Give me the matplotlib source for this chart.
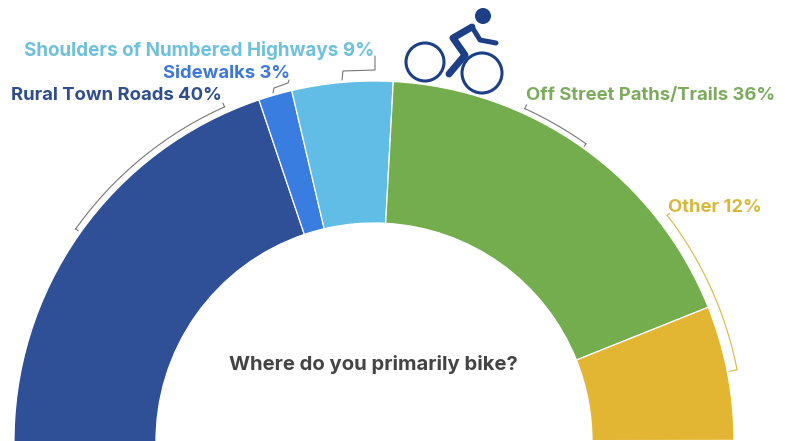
import numpy as np
import matplotlib
matplotlib.use('Agg')
import matplotlib.pyplot as plt
from matplotlib.patches import Circle

plt.rcParams['font.family'] = ['Inter', 'DejaVu Sans']

categorias = ['Rural Town Roads', 'Sidewalks', 'Shoulders of Numbered Highways',
              'Off Street Paths/Trails', 'Other']
valores = [40, 3, 9, 36, 12]
colores = ['#2f5096', '#3a7de0', '#62bde6', '#74ad4e', '#e2b532']
colores_texto = ['#2f4f8c', '#3f78dc', '#6fc0dc', '#7dab5e', '#d8b83c']
titulo = 'Where do you primarily bike?'

H = 441
CX, R, R_INT = 374, 360, 218
AZUL_ICONO = '#1d3f86'
GRIS = '#777777'


def py(y):
    # la imagen original se midio con y hacia abajo
    return H - y


def linea(puntos, color, lw=0.8):
    xs = [p[0] for p in puntos]
    ys = [py(p[1]) for p in puntos]
    ax.plot(xs, ys, color=color, lw=lw, solid_capstyle='round', solid_joinstyle='round')


def corchete(a0, a1, r, color, ini, fin):
    # arco alrededor del anillo, con una patita en cada extremo
    angs = np.radians(np.linspace(a0, a1, 40))
    xs = CX + r * np.cos(angs)
    ys = r * np.sin(angs)
    ax.plot(xs, ys, color=color, lw=0.8)
    for a, dr in ((a0, ini), (a1, fin)):
        t = np.radians(a)
        ax.plot([CX + r * np.cos(t), CX + (r + dr) * np.cos(t)],
                [r * np.sin(t), (r + dr) * np.sin(t)], color=color, lw=0.8)


fig = plt.figure(figsize=(7.85, 4.41), dpi=100)
ax = fig.add_axes([0, 0, 1, 1])

# resto invisible para cerrar la vuelta, la mitad de abajo queda fuera de la imagen
ax.pie(valores + [99], colors=colores + ['none'], startangle=181, counterclock=False,
       center=(CX, 0), radius=R, frame=True,
       wedgeprops={'width': R - R_INT, 'edgecolor': 'white', 'linewidth': 0.9})
ax.patches[-1].set_edgecolor('none')

ax.set_xlim(0, 785)
ax.set_ylim(0, H)
ax.axis('off')

corchete(144.6, 114.1, 366, GRIS, -3, 4)
corchete(65.6, 54.5, 365, GRIS, 4, -3)
corchete(37.6, 11.1, 370, colores_texto[4], 3, -8)
linea([(273, 93), (274, 88), (288, 83), (289, 80)], GRIS)
linea([(342, 80), (343, 71), (375, 70), (375, 56)], GRIS)

fs = 13.3
ax.text(11, py(96), 'Rural Town Roads 40%', color=colores_texto[0], fontsize=fs,
        fontweight='bold', va='center')
ax.text(163, py(73), 'Sidewalks 3%', color=colores_texto[1], fontsize=fs,
        fontweight='bold', va='center')
ax.text(24, py(51), 'Shoulders of Numbered Highways 9%', color=colores_texto[2], fontsize=13.55,
        fontweight='bold', va='center')
ax.text(526, py(96), 'Off Street Paths/Trails 36%', color=colores_texto[3], fontsize=fs,
        fontweight='bold', va='center')
ax.text(668, py(208), 'Other 12%', color=colores_texto[4], fontsize=fs,
        fontweight='bold', va='center')
ax.text(373, py(365), titulo, color='#444444', fontsize=14.6,
        fontweight='bold', va='center', ha='center')

# ciclista
ax.add_patch(Circle((425, py(62)), 19, fill=False, ec=AZUL_ICONO, lw=2.2))
ax.add_patch(Circle((482, py(73)), 20, fill=False, ec=AZUL_ICONO, lw=2.2))
ax.add_patch(Circle((483, py(16)), 8, fc=AZUL_ICONO, ec='none'))
linea([(449, 74), (465, 55), (453, 38), (472, 27)], AZUL_ICONO, lw=5)
linea([(472, 27), (480, 40), (496, 43)], AZUL_ICONO, lw=3.6)

plt.savefig('out.png', dpi=100)
plt.close()
